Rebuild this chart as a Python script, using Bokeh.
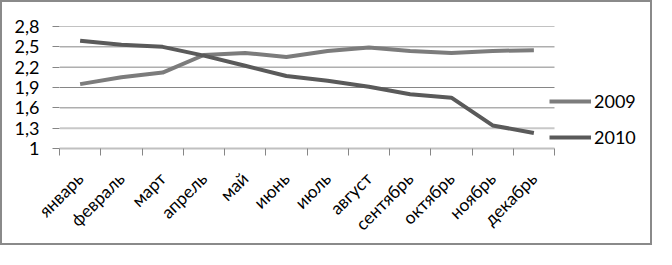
import math
from bokeh.plotting import figure
from bokeh.models import Range1d, FixedTicker, Legend, LegendItem
from bokeh.embed import file_html
from bokeh.resources import INLINE

months = ["январь", "февраль", "март", "апрель", "май", "июнь", "июль",
          "август", "сентябрь", "октябрь", "ноябрь", "декабрь"]
y2009 = [1.95, 2.05, 2.12, 2.38, 2.41, 2.35, 2.44, 2.49, 2.44, 2.41, 2.44, 2.45]
y2010 = [2.59, 2.53, 2.50, 2.37, 2.22, 2.07, 2.00, 1.91, 1.80, 1.75, 1.34, 1.23]
y_ticks = [1, 1.3, 1.6, 1.9, 2.2, 2.5, 2.8]
y_tick_labels = ["1", "1,3", "1,6", "1,9", "2,2", "2,5", "2,8"]

FONT = "Lato"
GRID = "#868686"
x = list(range(len(months)))
n = len(months)

W, H = 652, 245
LEFT, RIGHT, TOP, BOTTOM = 57, 2, 24, 99
CAT_PX = 495 / n                      # pixel width of one month slot
frame_w = W - LEFT - RIGHT
x_start = -0.5
x_end = x_start + frame_w / CAT_PX    # frame extends right to hold the legend

p = figure(width=W, height=H, output_backend="svg", toolbar_location=None,
           x_range=Range1d(x_start, x_end), y_range=Range1d(1, 2.8),
           min_border_left=LEFT, min_border_right=RIGHT, min_border_top=TOP,
           min_border_bottom=BOTTOM)
p.styles = {"border": "2px solid #8a8a8a"}
p.outline_line_color = None
p.background_fill_color = "white"
p.border_fill_color = "white"

# x axis
p.xaxis.bounds = (x_start, n - 0.5)
p.xaxis.ticker = FixedTicker(ticks=x, minor_ticks=[i - 0.5 for i in range(n + 1)])
p.xaxis.major_label_overrides = {i: m for i, m in zip(x, months)}
p.xaxis.major_tick_out = 0
p.xaxis.major_tick_in = 0
p.xaxis.minor_tick_out = 7
p.xaxis.minor_tick_in = 0
p.xaxis.minor_tick_line_color = GRID
p.xaxis.axis_line_color = "#c0c0c0"
p.xaxis.axis_line_width = 2
p.xaxis.major_label_orientation = math.pi / 4
p.xaxis.major_label_text_font = FONT
p.xaxis.major_label_text_font_size = "17.5px"
p.xaxis.major_label_text_color = "black"
p.xaxis.major_label_standoff = 20

# y axis
p.yaxis.ticker = FixedTicker(ticks=y_ticks)
p.yaxis.major_label_overrides = {t: l for t, l in zip(y_ticks, y_tick_labels)}
p.yaxis.axis_line_color = None
p.yaxis.major_tick_out = 7
p.yaxis.major_tick_in = 0
p.yaxis.major_tick_line_color = GRID
p.yaxis.minor_tick_line_color = None
p.yaxis.major_label_text_font = FONT
p.yaxis.major_label_text_font_size = "18px"
p.yaxis.major_label_text_color = "black"
p.yaxis.major_label_standoff = 13

p.grid.visible = False
gy = y_ticks[2:]
p.segment(x0=[x_start] * len(gy), x1=[n - 0.5] * len(gy), y0=gy, y1=gy,
          line_color=GRID, line_width=1)
p.segment(x0=[x_start], x1=[n - 0.5], y0=[y_ticks[1]], y1=[y_ticks[1]],
          line_color="#c8c8c8", line_width=2)

r09 = p.line(x, y2009, line_color="#7c7c7c", line_width=4)
r10 = p.line(x, y2010, line_color="#5a5a5a", line_width=4)

legend = Legend(items=[LegendItem(label="2009", renderers=[r09]),
                       LegendItem(label="2010", renderers=[r10])],
                location=(490, 0), padding=0, margin=0, spacing=14,
                glyph_width=42, glyph_height=12, label_height=12,
                label_standoff=3, border_line_color=None,
                background_fill_alpha=0,
                label_text_font=FONT, label_text_font_size="18px",
                label_text_color="black")
p.add_layout(legend, "center")

open("out.html", "w").write(file_html(p, INLINE))
